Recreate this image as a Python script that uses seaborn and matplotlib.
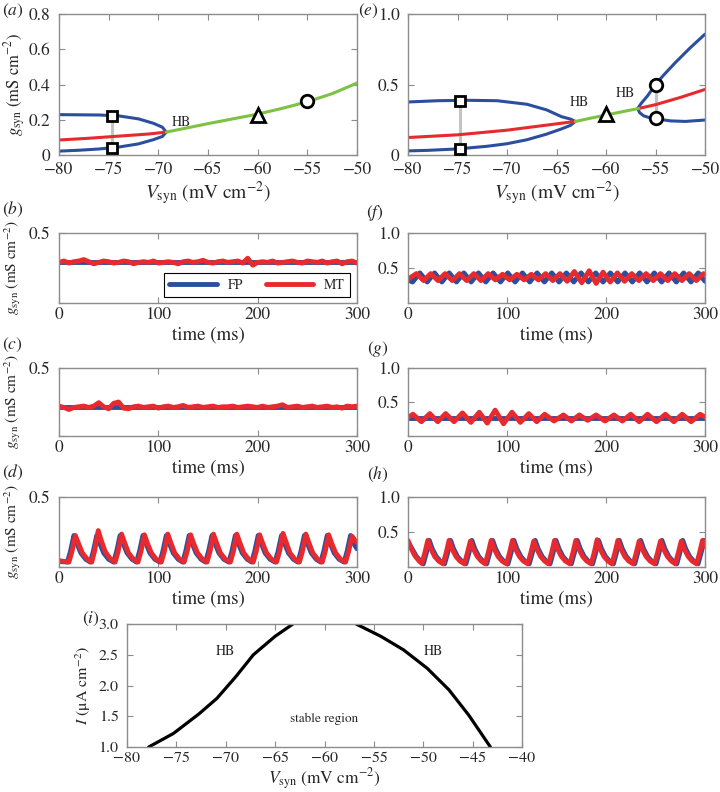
import numpy as np
import matplotlib
matplotlib.use('Agg')
import matplotlib.pyplot as plt
import seaborn as sns

# ---- (a) bifurcation diagram, I = 1
a_blue_v = [-80, -78, -76, -74, -72, -70.5, -69.6, -69.2, -69.6, -70.5, -72, -74, -76, -78, -80]
a_blue_g = [0.229, 0.228, 0.227, 0.222, 0.205, 0.180, 0.158, 0.130, 0.105, 0.087, 0.063, 0.045, 0.034, 0.027, 0.022]
a_red_v = [-80, -77, -74, -71, -69.2]
a_red_g = [0.085, 0.095, 0.107, 0.119, 0.130]
a_green_v = [-69.2, -67, -65, -62.5, -60, -57.5, -55, -52.5, -50]
a_green_g = [0.130, 0.155, 0.178, 0.205, 0.232, 0.265, 0.302, 0.348, 0.408]
a_sq_v = [-74.7, -74.7]
a_sq_g = [0.222, 0.040]
a_tri = (-60, 0.228)
a_circ = (-55, 0.304)

# ---- (e) bifurcation diagram, I = 2
e_blue1_v = [-80, -77, -74, -71, -68, -66, -64.5, -63.6, -63.1, -63.6, -64.5, -66, -68, -70, -72, -75, -78, -80]
e_blue1_g = [0.376, 0.385, 0.388, 0.385, 0.360, 0.320, 0.272, 0.255, 0.238, 0.210, 0.185, 0.148, 0.108, 0.080, 0.062, 0.043, 0.033, 0.029]
e_blue2_v = [-50, -51.5, -53, -54.2, -55, -55.8, -56.4, -56.8, -56.6, -56.2, -55.5, -55, -53.5, -52, -50]
e_blue2_g = [0.857, 0.760, 0.655, 0.565, 0.500, 0.420, 0.370, 0.330, 0.300, 0.278, 0.262, 0.257, 0.242, 0.238, 0.248]
e_red1_v = [-80, -75, -70, -66, -63.1]
e_red1_g = [0.124, 0.143, 0.176, 0.212, 0.238]
e_red2_v = [-56.7, -55, -52.5, -50]
e_red2_g = [0.330, 0.357, 0.408, 0.465]
e_green_v = [-63.1, -61.5, -60, -58.5, -56.7]
e_green_g = [0.238, 0.262, 0.283, 0.305, 0.330]
e_sq_v = [-74.7, -74.7]
e_sq_g = [0.386, 0.043]
e_tri = (-60, 0.288)
e_circ_v = [-55, -55]
e_circ_g = [0.500, 0.260]

# ---- time traces
b_blue = [0.29, 0.29]
b_red = [0.29, 0.30, 0.285, 0.295, 0.30, 0.31, 0.295, 0.28, 0.29, 0.30, 0.295, 0.285, 0.29, 0.30,
         0.295, 0.28, 0.29, 0.295, 0.29, 0.30, 0.285, 0.29, 0.295, 0.29, 0.28, 0.295, 0.30, 0.29,
         0.295, 0.305, 0.29, 0.285, 0.295, 0.30, 0.29, 0.295, 0.30, 0.285, 0.32, 0.27, 0.29, 0.295,
         0.29, 0.30, 0.285, 0.29, 0.295, 0.30, 0.29, 0.285, 0.30, 0.295, 0.29, 0.30, 0.285, 0.295,
         0.30, 0.28, 0.295, 0.30, 0.285]

c_blue = [0.215, 0.215]
c_red = [0.22, 0.21, 0.195, 0.21, 0.215, 0.22, 0.21, 0.22, 0.245, 0.215, 0.20, 0.24, 0.25, 0.205,
         0.20, 0.215, 0.22, 0.21, 0.215, 0.22, 0.205, 0.215, 0.22, 0.21, 0.215, 0.225, 0.21, 0.215,
         0.22, 0.21, 0.215, 0.22, 0.21, 0.215, 0.215, 0.22, 0.21, 0.215, 0.22, 0.215, 0.21, 0.22,
         0.21, 0.215, 0.22, 0.23, 0.21, 0.215, 0.22, 0.21, 0.215, 0.22, 0.21, 0.215, 0.22, 0.21,
         0.215, 0.205, 0.22, 0.215, 0.22]

d_blue_t = [0, 8.5, 11.5, 15, 18, 22, 27,
            31.5, 34.5, 38, 41, 45, 50,
            55, 58, 61.5, 64.5, 68.5, 73.5,
            78, 81, 84.5, 87.5, 91.5, 96.5,
            101.5, 104.5, 108, 111, 115, 120,
            124.5, 127.5, 131, 134, 138, 143,
            147.5, 150.5, 154, 157, 161, 166,
            171, 174, 177.5, 180.5, 184.5, 189.5,
            194, 197, 200.5, 203.5, 207.5, 212.5,
            217.5, 220.5, 224, 227, 231, 236,
            240.5, 243.5, 247, 250, 254, 259,
            263.5, 266.5, 270, 273, 277, 282,
            287, 290, 293.5, 296.5, 300]
d_blue_g = [0.04, 0.035, 0.11, 0.225, 0.17, 0.10, 0.055,
            0.035, 0.11, 0.225, 0.17, 0.10, 0.055,
            0.035, 0.11, 0.225, 0.17, 0.10, 0.055,
            0.035, 0.11, 0.225, 0.17, 0.10, 0.055,
            0.035, 0.11, 0.225, 0.17, 0.10, 0.055,
            0.035, 0.11, 0.225, 0.17, 0.10, 0.055,
            0.035, 0.11, 0.225, 0.17, 0.10, 0.055,
            0.035, 0.11, 0.225, 0.17, 0.10, 0.055,
            0.035, 0.11, 0.225, 0.17, 0.10, 0.055,
            0.035, 0.11, 0.225, 0.17, 0.10, 0.055,
            0.035, 0.11, 0.225, 0.17, 0.10, 0.055,
            0.035, 0.11, 0.225, 0.17, 0.10, 0.055,
            0.035, 0.11, 0.225, 0.17, 0.13]
d_red_t = [0, 10, 13, 16.5, 19.5, 23.5, 28.5,
           33, 36, 39.5, 42.5, 46.5, 51.5,
           56.5, 59.5, 63, 66, 70, 75,
           79.5, 82.5, 86, 89, 93, 98,
           103, 106, 109.5, 112.5, 116.5, 121.5,
           126, 129, 132.5, 135.5, 139.5, 144.5,
           149, 152, 155.5, 158.5, 162.5, 167.5,
           172.5, 175.5, 179, 182, 186, 191,
           195.5, 198.5, 202, 205, 209, 214,
           219, 222, 225.5, 228.5, 232.5, 237.5,
           242, 245, 248.5, 251.5, 255.5, 260.5,
           265, 268, 271.5, 274.5, 278.5, 283.5,
           288.5, 291.5, 295, 298, 300]
d_red_g = [0.045, 0.035, 0.11, 0.225, 0.17, 0.10, 0.055,
           0.035, 0.12, 0.26, 0.19, 0.11, 0.06,
           0.035, 0.11, 0.235, 0.175, 0.10, 0.055,
           0.035, 0.11, 0.23, 0.17, 0.10, 0.055,
           0.035, 0.11, 0.235, 0.175, 0.10, 0.055,
           0.035, 0.11, 0.23, 0.17, 0.10, 0.055,
           0.035, 0.11, 0.235, 0.175, 0.10, 0.055,
           0.035, 0.11, 0.235, 0.175, 0.10, 0.055,
           0.035, 0.11, 0.23, 0.17, 0.10, 0.055,
           0.035, 0.11, 0.24, 0.18, 0.10, 0.055,
           0.035, 0.11, 0.235, 0.175, 0.10, 0.055,
           0.035, 0.11, 0.23, 0.17, 0.10, 0.055,
           0.035, 0.11, 0.22, 0.19, 0.175]

f_blue_t = [0, 4.6, 12.0, 19.4, 26.8, 34.2, 41.6, 49.0, 56.4, 63.8, 71.2, 78.6, 86.0, 93.4,
            100.8, 108.2, 115.6, 123.0, 130.4, 137.8, 145.2, 152.6, 160.0, 167.4, 174.8, 182.2,
            189.6, 197.0, 204.4, 211.8, 219.2, 226.6, 234.0, 241.4, 248.8, 256.2, 263.6, 271.0,
            278.4, 285.8, 293.2, 300]
f_blue_g = [0.33, 0.30, 0.43, 0.30, 0.43, 0.30, 0.43, 0.30, 0.43, 0.30, 0.43, 0.30, 0.43, 0.30,
            0.43, 0.30, 0.43, 0.30, 0.43, 0.30, 0.43, 0.30, 0.43, 0.30, 0.43, 0.30,
            0.43, 0.30, 0.43, 0.30, 0.43, 0.30, 0.43, 0.30, 0.43, 0.30, 0.43, 0.30,
            0.43, 0.30, 0.43, 0.31]
f_red_t = [0, 8.5, 15.75, 23, 30.25, 37.5, 44.75, 52, 59.25, 66.5, 73.75, 81, 88.25, 95.5,
           102.75, 110, 117.25, 124.5, 131.75, 139, 146.25, 153.5, 160.75, 168, 175.5, 183,
           190, 197, 204.25, 211.5, 218.75, 226, 233.25, 240.5, 247.75, 255, 262.25, 269.5,
           276.75, 284, 291.25, 298.5, 300]
f_red_g = [0.34, 0.42, 0.32, 0.42, 0.32, 0.42, 0.32, 0.42, 0.32, 0.42, 0.32, 0.42, 0.33, 0.41,
           0.33, 0.41, 0.33, 0.41, 0.33, 0.42, 0.32, 0.42, 0.31, 0.45, 0.29, 0.46,
           0.28, 0.44, 0.30, 0.43, 0.31, 0.42, 0.32, 0.42, 0.32, 0.42, 0.32, 0.42,
           0.32, 0.42, 0.32, 0.42, 0.41]

g_blue_t = [0, 300]
g_blue_g = [0.26, 0.26]
g_red_t = [0, 5, 13.5, 22, 30, 38, 46.5, 55, 63.5, 72, 80, 88, 96.5, 105, 113.5, 122, 130, 138,
           147.5, 157, 165, 173, 181.5, 190, 199, 208, 216.5, 225, 233.5, 242, 251, 260, 268.5,
           277, 286, 295, 300]
g_red_g = [0.27, 0.32, 0.21, 0.33, 0.21, 0.33, 0.21, 0.34, 0.20, 0.35, 0.19, 0.38, 0.18, 0.35,
           0.20, 0.33, 0.21, 0.32, 0.22, 0.31, 0.22, 0.31, 0.23, 0.31, 0.22, 0.31, 0.22, 0.32,
           0.21, 0.32, 0.21, 0.32, 0.21, 0.32, 0.21, 0.32, 0.28]

h_blue_t = [0, 4.5, 8.5, 12.5, 15.5, 18.5,
            21.5, 24.5, 28.5, 32.5, 37, 40,
            43, 46, 50, 54, 58.5, 61.5,
            64.5, 67.5, 71.5, 75.5, 79.5, 82.5,
            85.5, 88.5, 92.5, 96.5, 101, 104,
            107, 110, 114, 118, 122.5, 125.5,
            128.5, 131.5, 135.5, 139.5, 143.5, 146.5,
            149.5, 152.5, 156.5, 160.5, 165, 168,
            171, 174, 178, 182, 186.5, 189.5,
            192.5, 195.5, 199.5, 203.5, 207.5, 210.5,
            213.5, 216.5, 220.5, 224.5, 229, 232,
            235, 238, 242, 246, 250.5, 253.5,
            256.5, 259.5, 263.5, 267.5, 271.5, 274.5,
            277.5, 280.5, 284.5, 288.5, 293, 296,
            299, 300]
h_blue_g = [0.36, 0.25, 0.15, 0.085, 0.045, 0.20,
            0.38, 0.26, 0.15, 0.085, 0.045, 0.20,
            0.38, 0.26, 0.15, 0.085, 0.045, 0.20,
            0.38, 0.26, 0.15, 0.085, 0.045, 0.20,
            0.38, 0.26, 0.15, 0.085, 0.045, 0.20,
            0.38, 0.26, 0.15, 0.085, 0.045, 0.20,
            0.38, 0.26, 0.15, 0.085, 0.045, 0.20,
            0.38, 0.26, 0.15, 0.085, 0.045, 0.20,
            0.38, 0.26, 0.15, 0.085, 0.045, 0.20,
            0.38, 0.26, 0.15, 0.085, 0.045, 0.20,
            0.38, 0.26, 0.15, 0.085, 0.045, 0.20,
            0.38, 0.26, 0.15, 0.085, 0.045, 0.20,
            0.38, 0.26, 0.15, 0.085, 0.045, 0.20,
            0.38, 0.26, 0.15, 0.085, 0.045, 0.20,
            0.38, 0.37]
h_red_t = [0, 3, 7, 11, 14, 17,
           20, 23, 27, 31, 35.5, 38.5,
           41.5, 44.5, 48.5, 52.5, 57, 60,
           63, 66, 70, 74, 78, 81,
           84, 87, 91, 95, 99.5, 102.5,
           105.5, 108.5, 112.5, 116.5, 121, 124,
           127, 130, 134, 138, 142, 145,
           148, 151, 155, 159, 163.5, 166.5,
           169.5, 172.5, 176.5, 180.5, 185, 188,
           191, 194, 198, 202, 206, 209,
           212, 215, 219, 223, 227.5, 230.5,
           233.5, 236.5, 240.5, 244.5, 249, 252,
           255, 258, 262, 266, 270, 273,
           276, 279, 283, 287, 291.5, 294.5,
           297.5, 300]
h_red_g = [0.38, 0.27, 0.16, 0.09, 0.05, 0.20,
           0.38, 0.26, 0.15, 0.085, 0.045, 0.20,
           0.38, 0.26, 0.15, 0.085, 0.045, 0.20,
           0.37, 0.26, 0.15, 0.085, 0.045, 0.20,
           0.38, 0.26, 0.15, 0.085, 0.045, 0.20,
           0.38, 0.26, 0.15, 0.085, 0.045, 0.20,
           0.37, 0.26, 0.15, 0.085, 0.045, 0.20,
           0.38, 0.26, 0.15, 0.085, 0.045, 0.20,
           0.38, 0.26, 0.15, 0.085, 0.045, 0.20,
           0.39, 0.26, 0.15, 0.085, 0.045, 0.20,
           0.38, 0.26, 0.15, 0.085, 0.045, 0.20,
           0.37, 0.26, 0.15, 0.085, 0.045, 0.20,
           0.37, 0.26, 0.15, 0.085, 0.045, 0.20,
           0.37, 0.26, 0.15, 0.085, 0.045, 0.20,
           0.38, 0.29]

# ---- (i) two-parameter HB curves
i_left_v = [-77.8, -75.3, -72.7, -70.9, -69.0, -67.2, -65.0, -63.2]
i_left_I = [1.0, 1.22, 1.54, 1.79, 2.14, 2.50, 2.80, 3.0]
i_right_v = [-56.8, -54.3, -52.0, -49.6, -47.4, -45.4, -43.2]
i_right_I = [3.0, 2.80, 2.58, 2.28, 1.93, 1.52, 1.0]

BLUE = '#2b4f9e'
RED = '#e8292e'
GREEN = '#7dc243'
GREY = '#c4c4c4'
SPINE = '#8c8c8c'

sns.set_style('ticks')
plt.rcParams['font.family'] = ['STIXGeneral', 'Liberation Serif', 'DejaVu Serif']
plt.rcParams['mathtext.fontset'] = 'stix'

fig = plt.figure(figsize=(7.2, 7.92), dpi=100)


def px_axes(l, t, r, b):
    return fig.add_axes([l / 720, 1 - b / 792, (r - l) / 720, (b - t) / 792])


def style(ax, size=12.5, xpad=3):
    for s in ax.spines.values():
        s.set_color(SPINE)
        s.set_linewidth(1.0)
    ax.tick_params(direction='in', top=True, right=True, length=4, width=0.8,
                   color=SPINE, labelsize=size)
    ax.tick_params(axis='x', pad=xpad)
    ax.tick_params(axis='y', pad=6)


def line(ax, x, y, color, lw, **kw):
    sns.lineplot(x=x, y=y, ax=ax, color=color, linewidth=lw, sort=False,
                 estimator=None, **kw)


def markers(ax, x, y, m, ms):
    ax.plot(x, y, ls='none', marker=m, ms=ms, mfc='white', mec='k', mew=2, zorder=6)


vlab = r'$V_{\rm syn}$ (mV cm$^{-2}$)'
glab = r'$g_{\rm syn}$ (mS cm$^{-2}$)'
vticks = [-80, -75, -70, -65, -60, -55, -50]
RIGHT_L, RIGHT_R = 408, 705

# (a)
ax = px_axes(59, 14, 357, 155)
line(ax, a_sq_v, a_sq_g, GREY, 2.2)
line(ax, a_blue_v, a_blue_g, BLUE, 2.2)
line(ax, a_red_v, a_red_g, RED, 2.2)
line(ax, a_green_v, a_green_g, GREEN, 2.2)
markers(ax, a_sq_v, a_sq_g, 's', 7.5)
markers(ax, [a_tri[0]], [a_tri[1]], '^', 10)
markers(ax, [a_circ[0]], [a_circ[1]], 'o', 9)
ax.text(-68.7, 0.185, 'HB', fontsize=10, va='center')
ax.set_xlim(-80, -50)
ax.set_ylim(0, 0.8)
ax.set_xticks(vticks)
ax.set_yticks([0, 0.2, 0.4, 0.6, 0.8])
ax.set_yticklabels(['0', '0.2', '0.4', '0.6', '0.8'])
ax.set_xlabel(vlab, fontsize=14, labelpad=1)
ax.set_ylabel(glab, fontsize=12, labelpad=1)
style(ax, xpad=5)

# (e)
ax = px_axes(RIGHT_L, 14, RIGHT_R, 155)
line(ax, e_sq_v, e_sq_g, GREY, 2.2)
line(ax, e_circ_v, e_circ_g, GREY, 2.2)
line(ax, e_blue1_v, e_blue1_g, BLUE, 2.2)
line(ax, e_blue2_v, e_blue2_g, BLUE, 2.2)
line(ax, e_red1_v, e_red1_g, RED, 2.2)
line(ax, e_red2_v, e_red2_g, RED, 2.2)
line(ax, e_green_v, e_green_g, GREEN, 2.2)
markers(ax, e_sq_v, e_sq_g, 's', 7.5)
markers(ax, [e_tri[0]], [e_tri[1]], '^', 10)
markers(ax, e_circ_v, e_circ_g, 'o', 9)
ax.text(-63.7, 0.374, 'HB', fontsize=10, va='center')
ax.text(-59.0, 0.436, 'HB', fontsize=10, va='center')
ax.set_xlim(-80, -50)
ax.set_ylim(0, 1.0)
ax.set_xticks(vticks)
ax.set_yticks([0, 0.5, 1.0])
ax.set_yticklabels(['0', '0.5', '1.0'])
ax.set_xlabel(vlab, fontsize=14, labelpad=1)
style(ax, xpad=5)

# time traces
left_rows = [(233, 303), (368, 436), (497, 567)]
t_b = np.linspace(0, 300, len(b_red))
t_c = np.linspace(0, 300, len(c_red))
left_data = [([0, 300], b_blue, t_b, b_red),
             ([0, 300], c_blue, t_c, c_red),
             (d_blue_t, d_blue_g, d_red_t, d_red_g)]
right_data = [(f_blue_t, f_blue_g, f_red_t, f_red_g),
              (g_blue_t, g_blue_g, g_red_t, g_red_g),
              (h_blue_t, h_blue_g, h_red_t, h_red_g)]

for k, (top, bot) in enumerate(left_rows):
    ax = px_axes(59, top, 357, bot)
    bt, bg, rt, rg = left_data[k]
    if k == 0:
        line(ax, bt, bg, BLUE, 3.5, label='FP')
        line(ax, rt, rg, RED, 3.5, label='MT')
        leg = ax.legend(loc='lower right', bbox_to_anchor=(0.977, 0.08), borderaxespad=0,
                        ncol=2, fontsize=10, frameon=True, fancybox=False, edgecolor='k',
                        framealpha=1, handlelength=3.4, columnspacing=1.6, borderpad=0.4)
        leg.get_frame().set_linewidth(0.8)
    else:
        line(ax, bt, bg, BLUE, 3.5)
        line(ax, rt, rg, RED, 3.5)
    ax.set_xlim(0, 300)
    ax.set_ylim(0, 0.5)
    ax.set_xticks([0, 100, 200, 300])
    ax.set_yticks([0, 0.5])
    ax.set_yticklabels(['', '0.5'])
    ax.set_xlabel('time (ms)', fontsize=13.5, labelpad=2)
    ax.set_ylabel(glab, fontsize=11, labelpad=4)
    style(ax)

    ax = px_axes(RIGHT_L, top, RIGHT_R, bot)
    bt, bg, rt, rg = right_data[k]
    line(ax, bt, bg, BLUE, 3.5)
    line(ax, rt, rg, RED, 3.5)
    ax.set_xlim(0, 300)
    ax.set_ylim(0, 1.0)
    ax.set_xticks([0, 100, 200, 300])
    ax.set_yticks([0, 0.5, 1.0])
    ax.set_yticklabels(['', '0.5', '1.0'])
    ax.set_xlabel('time (ms)', fontsize=13.5, labelpad=2)
    style(ax)

# (i)
ax = px_axes(127, 624, 522, 747)
line(ax, i_left_v, i_left_I, 'k', 2.3)
line(ax, i_right_v, i_right_I, 'k', 2.3)
ax.text(-70, 2.55, 'HB', fontsize=10, ha='center', va='center')
ax.text(-49, 2.55, 'HB', fontsize=10, ha='center', va='center')
ax.text(-60, 1.45, 'stable region', fontsize=9.5, ha='center', va='center')
ax.set_xlim(-80, -40)
ax.set_ylim(1.0, 3.0)
ax.set_xticks([-80, -75, -70, -65, -60, -55, -50, -45, -40])
ax.set_yticks([1.0, 1.5, 2.0, 2.5, 3.0])
ax.set_yticklabels(['1.0', '1.5', '2.0', '2.5', '3.0'])
ax.set_xlabel(vlab, fontsize=12.5, labelpad=1)
ax.set_ylabel(r'$I$ (μA cm$^{-2}$)', fontsize=11.5, labelpad=4)
style(ax, size=11.5)

# panel letters
for letter, x, y in [('a', 2, 2), ('e', 358, 2), ('b', 2, 200), ('f', 366, 203),
                     ('c', 2, 336), ('g', 367, 339), ('d', 2, 463), ('h', 367, 465),
                     ('i', 82, 610)]:
    fig.text(x / 720, 1 - y / 792, '($' + letter + '$)', fontsize=12.5, va='top', ha='left')

fig.savefig('out.png', dpi=100)
